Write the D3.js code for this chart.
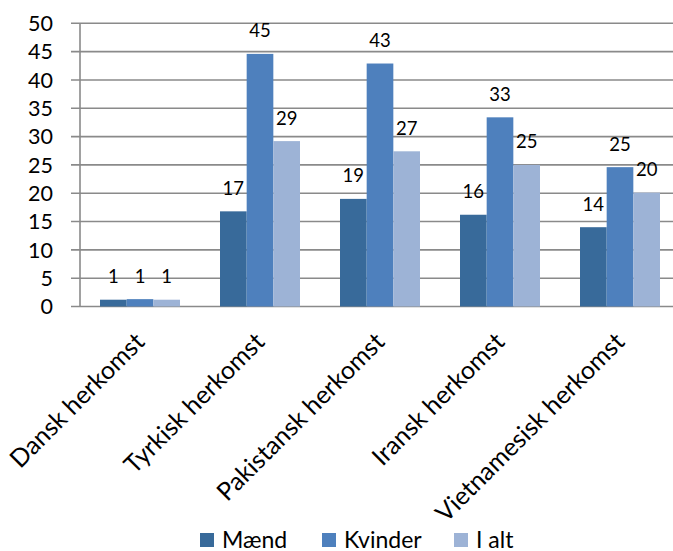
<!DOCTYPE html>
<html><head><meta charset="utf-8">
<script src="https://cdn.jsdelivr.net/npm/d3@7"></script>
<style>body{margin:0;background:#fff}svg{display:block}text{font-family:Lato,"Open Sans",sans-serif;fill:#000}</style>
</head><body><svg id="c" width="673" height="551"></svg>
<script>
const categories = ["Dansk herkomst","Tyrkisk herkomst","Pakistansk herkomst","Iransk herkomst","Vietnamesisk herkomst"];
const seriesNames = ["Mænd","Kvinder","I alt"];
const maend = [1.2, 16.8, 19.0, 16.2, 14.0];
const kvinder = [1.3, 44.6, 42.9, 33.4, 24.6];
const ialt = [1.2, 29.2, 27.4, 25.0, 20.1];
const yTicks = [0,5,10,15,20,25,30,35,40,45,50];
const colors = ["#386A9A","#4E80BD","#9DB3D6"];

const series = [maend, kvinder, ialt];
const svg = d3.select("#c");
const x = d3.scaleBand().domain(categories).range([80,680]).paddingInner(1/3).paddingOuter(1/6);
const xs = d3.scaleBand().domain(seriesNames).range([0,x.bandwidth()]);
const y = d3.scaleLinear().domain([0,50]).range([306.5,23.3]);

// gridlines
svg.append("g").selectAll("line").data(yTicks).join("line")
  .attr("x1",71).attr("x2",673).attr("y1",d=>y(d)).attr("y2",d=>y(d))
  .attr("stroke","#8a8a8a").attr("stroke-width",1.6);
// y axis line
svg.append("line").attr("x1",80).attr("x2",80).attr("y1",y(50)).attr("y2",y(0))
  .attr("stroke","#8a8a8a").attr("stroke-width",1.6);
// y labels
svg.append("g").selectAll("text").data(yTicks).join("text")
  .attr("x",53).attr("y",d=>y(d)).attr("dy","0.36em").attr("text-anchor","end")
  .attr("font-size",21.5).text(d=>d);

// bars
const g = svg.append("g");
series.forEach((vals,si)=>{
  g.append("g").selectAll("rect").data(vals).join("rect")
    .attr("x",(d,i)=>x(categories[i])+xs(seriesNames[si]))
    .attr("width",xs.bandwidth())
    .attr("y",d=>y(d)).attr("height",d=>y(0)-y(d))
    .attr("fill",colors[si]);
  g.append("g").selectAll("text").data(vals).join("text")
    .attr("x",(d,i)=>x(categories[i])+xs(seriesNames[si])+xs.bandwidth()/2)
    .attr("y",d=>y(d)-16.5).attr("text-anchor","middle")
    .attr("font-size",18.5).text(d=>Math.round(d));
});

// x labels
svg.append("g").selectAll("text").data(categories).join("text")
  .attr("transform",d=>`translate(${x(d)+x.bandwidth()/2+6},${y(0)+37}) rotate(-45)`)
  .attr("text-anchor","end").attr("font-size",25).text(d=>d);

// legend
const legX = [200,322,454];
const lg = svg.append("g");
seriesNames.forEach((n,i)=>{
  lg.append("rect").attr("x",legX[i]).attr("y",533).attr("width",14).attr("height",14).attr("fill",colors[i]);
  lg.append("text").attr("x",legX[i]+22).attr("y",547.5).attr("font-size",23).text(n);
});
</script></body></html>
